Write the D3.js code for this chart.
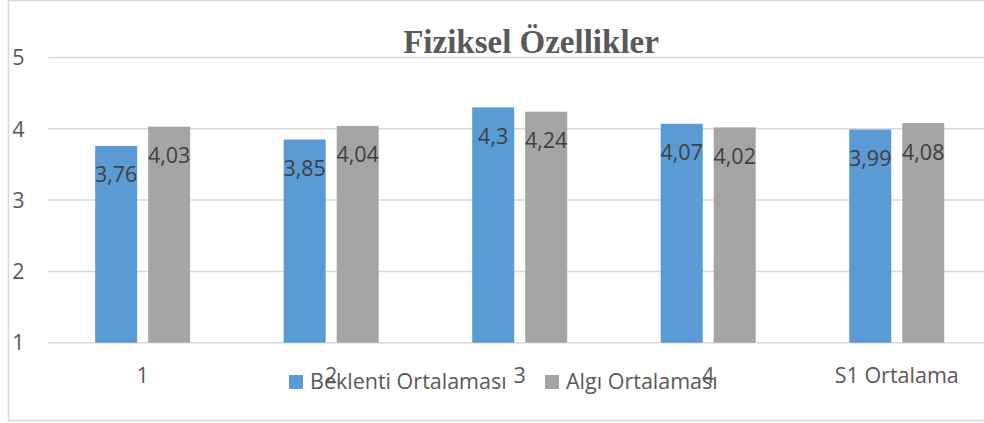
<!DOCTYPE html>
<html>
<head>
<meta charset="utf-8">
<script src="https://cdn.jsdelivr.net/npm/d3@7"></script>
<style>
  html, body { margin: 0; padding: 0; background: #fff; }
  svg { display: block; }
</style>
</head>
<body>
<svg id="chart" width="984" height="423"></svg>
<script>
const categories = ["1", "2", "3", "4", "S1 Ortalama"];
const seriesNames = ["Beklenti Ortalaması", "Algı Ortalaması"];
const beklenti = [3.76, 3.85, 4.3, 4.07, 3.99];
const algi = [4.03, 4.04, 4.24, 4.02, 4.08];
const yTicks = [1, 2, 3, 4, 5];
const title = "Fiziksel Özellikler";
const colors = ["#5B9BD5", "#A5A5A5"];

const svg = d3.select("#chart");
const font = "'Open Sans', 'Noto Sans', sans-serif";
const fmt = v => String(v).replace(".", ",");

// outer frame
svg.append("rect")
  .attr("x", 8.5).attr("y", 0.5).attr("width", 1000).attr("height", 420)
  .attr("fill", "#fff").attr("stroke", "#D9D9D9").attr("stroke-width", 1.5);

const plot = { left: 48.4, right: 991, top: 57.5, bottom: 342.7 };

const x0 = d3.scaleBand().domain(categories).range([plot.left, plot.right]).padding(0);
const y = d3.scaleLinear().domain([1, 5]).range([plot.bottom, plot.top]);
const groupW = 95;
const x1 = d3.scaleBand().domain(seriesNames)
  .range([x0.bandwidth() / 2 - groupW / 2, x0.bandwidth() / 2 + groupW / 2])
  .paddingInner(11 / 53).paddingOuter(0);

// gridlines
svg.append("g").selectAll("line").data(yTicks).join("line")
  .attr("x1", plot.left).attr("x2", plot.right)
  .attr("y1", d => y(d)).attr("y2", d => y(d))
  .attr("stroke", "#D9D9D9").attr("stroke-width", 1.5);

// y tick labels
svg.append("g").selectAll("text").data(yTicks).join("text")
  .attr("x", 18.5).attr("y", d => y(d)).attr("dy", "0.36em")
  .attr("text-anchor", "middle")
  .attr("font-family", font).attr("font-size", 21.5).attr("fill", "#595959")
  .text(d => d);

// bars
const data = categories.map((c, i) => ({ cat: c, values: [beklenti[i], algi[i]] }));
const groups = svg.append("g").selectAll("g").data(data).join("g")
  .attr("transform", d => `translate(${x0(d.cat)},0)`);

groups.selectAll("rect").data(d => d.values.map((v, j) => ({ s: seriesNames[j], v, j })))
  .join("rect")
  .attr("x", d => x1(d.s)).attr("width", x1.bandwidth())
  .attr("y", d => y(d.v)).attr("height", d => y(1) - y(d.v))
  .attr("fill", d => colors[d.j]);

groups.selectAll("text").data(d => d.values.map((v, j) => ({ s: seriesNames[j], v, j })))
  .join("text")
  .attr("x", d => x1(d.s) + x1.bandwidth() / 2)
  .attr("y", d => y(d.v) + 36.5)
  .attr("text-anchor", "middle")
  .attr("font-family", font).attr("font-size", 21.5).attr("fill", "#404040")
  .text(d => fmt(d.v));

// category labels
svg.append("g").selectAll("text").data(categories).join("text")
  .attr("x", d => x0(d) + x0.bandwidth() / 2).attr("y", 383)
  .attr("text-anchor", "middle")
  .attr("font-family", font).attr("font-size", 21.5).attr("fill", "#595959")
  .text(d => d);

// title
svg.append("text")
  .attr("x", 531).attr("y", 53).attr("text-anchor", "middle")
  .attr("font-family", "'Liberation Serif', 'Times New Roman', serif")
  .attr("font-weight", "bold").attr("font-size", 33).attr("fill", "#595959")
  .text(title);

// legend
const legendX = [289, 545];
const legend = svg.append("g").selectAll("g").data(seriesNames).join("g")
  .attr("transform", (d, i) => `translate(${legendX[i]},375)`);
legend.append("rect").attr("width", 14).attr("height", 14).attr("fill", (d, i) => colors[i]);
legend.append("text").attr("x", 21).attr("y", 14)
  .attr("font-family", font).attr("font-size", 21.5).attr("fill", "#595959")
  .text(d => d);
</script>
</body>
</html>
